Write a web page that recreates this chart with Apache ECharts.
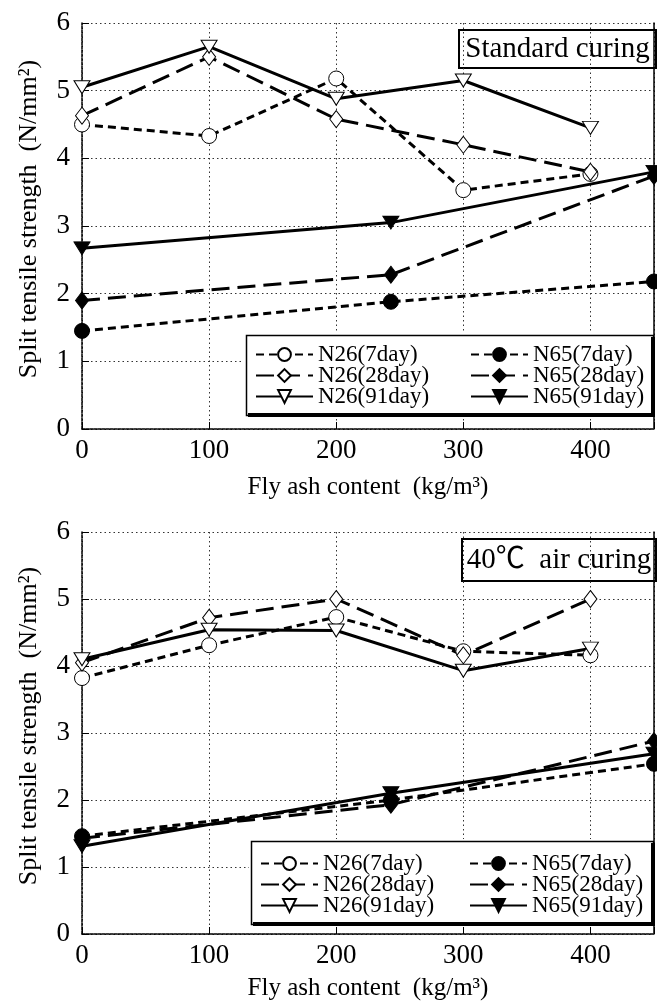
<!DOCTYPE html>
<html>
<head>
<meta charset="utf-8">
<script src="https://cdn.jsdelivr.net/npm/echarts@6/dist/echarts.min.js"></script>
<style>
html, body { margin: 0; padding: 0; background: #fff; }
#chart { width: 657px; height: 1002px; }
</style>
</head>
<body>
<div id="chart"></div>
<script>
// 粉煤灰掺量（横轴）
const xN26 = [0, 100, 200, 300, 400];
const xN65 = [0, 243, 450];
const xTicks = [0, 100, 200, 300, 400];

// Standard curing
const stdN26_7 = [4.5, 4.33, 5.18, 3.53, 3.77];
const stdN26_28 = [4.63, 5.5, 4.58, 4.2, 3.8];
const stdN26_91 = [5.05, 5.65, 4.88, 5.15, 4.45];
const stdN65_7 = [1.45, 1.88, 2.18];
const stdN65_28 = [1.9, 2.28, 3.74];
const stdN65_91 = [2.67, 3.05, 3.8];

// 40℃ air curing
const airN26_7 = [3.82, 4.31, 4.73, 4.22, 4.16];
const airN26_28 = [4.05, 4.72, 5.0, 4.16, 5.0];
const airN26_91 = [4.1, 4.54, 4.53, 3.93, 4.26];
const airN65_7 = [1.46, 2.0, 2.54];
const airN65_28 = [1.43, 1.93, 2.88];
const airN65_91 = [1.31, 2.1, 2.69];

const FONT = "'Liberation Serif', 'Noto Sans CJK JP', serif";

// 龄期对应的线型和标记
const ageStyle = {
    '7day':  { type: [8, 5], symbol: 'circle', size: 15, rotate: 0 },
    '28day': { type: [18, 8], symbol: 'diamond', size: [13, 17], rotate: 0 },
    '91day': { type: 'solid', symbol: 'triangle', size: [16, 13], rotate: 180 }
};

const makeSeries = (mix, age, xs, ys, gridIdx) => {
    const st = ageStyle[age];
    const open = mix === 'N26';
    return {
        name: mix + '(' + age + ')',
        type: 'line',
        xAxisIndex: gridIdx,
        yAxisIndex: gridIdx * 2,
        data: xs.map((x, i) => [x, ys[i]]),
        symbol: st.symbol,
        symbolSize: st.size,
        symbolRotate: st.rotate,
        showAllSymbol: true,
        lineStyle: { color: '#000', width: 3, type: st.type },
        itemStyle: { color: open ? '#fff' : '#000', borderColor: '#000', borderWidth: 1 },
        emphasis: { disabled: true },
        animation: false
    };
};

const grids = [
    { left: 82, top: 23, right: 2, height: 406 },
    { left: 82, top: 532, right: 2, height: 405 }
];

const xAxisOf = (i, gap) => ({
    type: 'value',
    gridIndex: i,
    min: 0,
    max: 450,
    interval: 100,
    axisLine: { lineStyle: { color: '#000', width: 1.5, type: [3, 1] } },
    axisTick: { inside: true, length: 7, lineStyle: { color: '#000', width: 1 } },
    axisLabel: {
        color: '#000', fontSize: 27, fontFamily: FONT, margin: 8,
        formatter: v => (xTicks.includes(v) ? String(v) : '')
    },
    splitLine: { show: true, lineStyle: { color: '#333', width: 1, type: [1.5, 3] } },
    name: 'Fly ash content  (kg/m³)',
    nameLocation: 'middle',
    nameGap: gap,
    nameTextStyle: { color: '#000', fontSize: 25, fontFamily: FONT }
});

const yAxesOf = i => [
    {
        type: 'value',
        gridIndex: i,
        min: 0,
        max: 6,
        interval: 1,
        axisLine: { show: true, lineStyle: { color: '#000', width: 1.5, type: [3, 1] } },
        axisTick: { show: true, inside: true, length: 7, lineStyle: { color: '#000' } },
        axisLabel: { color: '#000', fontSize: 27, fontFamily: FONT, margin: 12 },
        splitLine: { show: true, lineStyle: { color: '#333', width: 1, type: [1.5, 3] } },
        name: 'Split tensile strength  (N/mm²)',
        nameLocation: 'middle',
        nameGap: 40,
        nameTextStyle: { color: '#000', fontSize: 26, fontFamily: FONT, padding: [0, 0, 0, 14] }
    },
    {
        type: 'value',
        gridIndex: i,
        position: 'right',
        min: 0,
        max: 6,
        interval: 1,
        axisLine: { show: true, lineStyle: { color: '#000', width: 1.5 } },
        axisTick: { show: false },
        axisLabel: { show: false },
        splitLine: { show: false }
    }
];

const legendOf = (names, left, top) => ({
    orient: 'vertical',
    left: left,
    top: top,
    padding: 0,
    data: names,
    itemWidth: 57,
    itemHeight: 16,
    itemGap: -2,
    selectedMode: false,
    textStyle: { color: '#000', fontSize: 23, fontFamily: FONT, lineHeight: 21 }
});

const n26Names = ['N26(7day)', 'N26(28day)', 'N26(91day)'];
const n65Names = ['N65(7day)', 'N65(28day)', 'N65(91day)'];

const boxText = (text, left, top, w, h) => ({
    type: 'group',
    left: left,
    top: top,
    z: 100,
    children: [
        { type: 'rect', shape: { x: 0, y: 0, width: w, height: h },
          style: { fill: '#fff', stroke: '#000', lineWidth: 2 } },
        { type: 'text', x: w / 2, y: h / 2,
          style: { text: text, fill: '#000', font: '29px ' + FONT, align: 'center', verticalAlign: 'middle' } }
    ]
});

// 图例外框：白底 + 黑色投影，再叠一层黑边
const legendFill = (left, top, w, h) => ({
    type: 'rect', left: left, top: top, z: 1,
    shape: { width: w, height: h },
    style: { fill: '#fff', shadowColor: '#000', shadowBlur: 0, shadowOffsetX: 4, shadowOffsetY: 4 }
});
const legendEdge = (left, top, w, h) => ({
    type: 'rect', left: left, top: top, z: 2,
    shape: { width: w, height: h },
    style: { fill: 'none', stroke: '#000', lineWidth: 1.5 }
});

const option = {
    backgroundColor: '#fff',
    animation: false,
    grid: grids,
    xAxis: [xAxisOf(0, 46), xAxisOf(1, 42)],
    yAxis: [...yAxesOf(0), ...yAxesOf(1)],
    legend: [
        legendOf(n26Names, 255, 343),
        legendOf(n65Names, 470, 343),
        legendOf(n26Names, 260, 852),
        legendOf(n65Names, 469, 852)
    ],
    graphic: [
        legendFill(244, 333, 407, 80),
        legendEdge(244, 333, 407, 80),
        legendFill(249, 839, 402, 83),
        legendEdge(249, 839, 402, 83),
        boxText('Standard curing', 458, 29, 197, 38),
        boxText('40℃  air curing', 461, 538, 194, 42)
    ],
    series: [
        makeSeries('N26', '7day', xN26, stdN26_7, 0),
        makeSeries('N26', '28day', xN26, stdN26_28, 0),
        makeSeries('N26', '91day', xN26, stdN26_91, 0),
        makeSeries('N65', '7day', xN65, stdN65_7, 0),
        makeSeries('N65', '28day', xN65, stdN65_28, 0),
        makeSeries('N65', '91day', xN65, stdN65_91, 0),
        makeSeries('N26', '7day', xN26, airN26_7, 1),
        makeSeries('N26', '28day', xN26, airN26_28, 1),
        makeSeries('N26', '91day', xN26, airN26_91, 1),
        makeSeries('N65', '7day', xN65, airN65_7, 1),
        makeSeries('N65', '28day', xN65, airN65_28, 1),
        makeSeries('N65', '91day', xN65, airN65_91, 1)
    ]
};

const myChart = echarts.init(document.getElementById('chart'));
myChart.setOption(option);
</script>
</body>
</html>
